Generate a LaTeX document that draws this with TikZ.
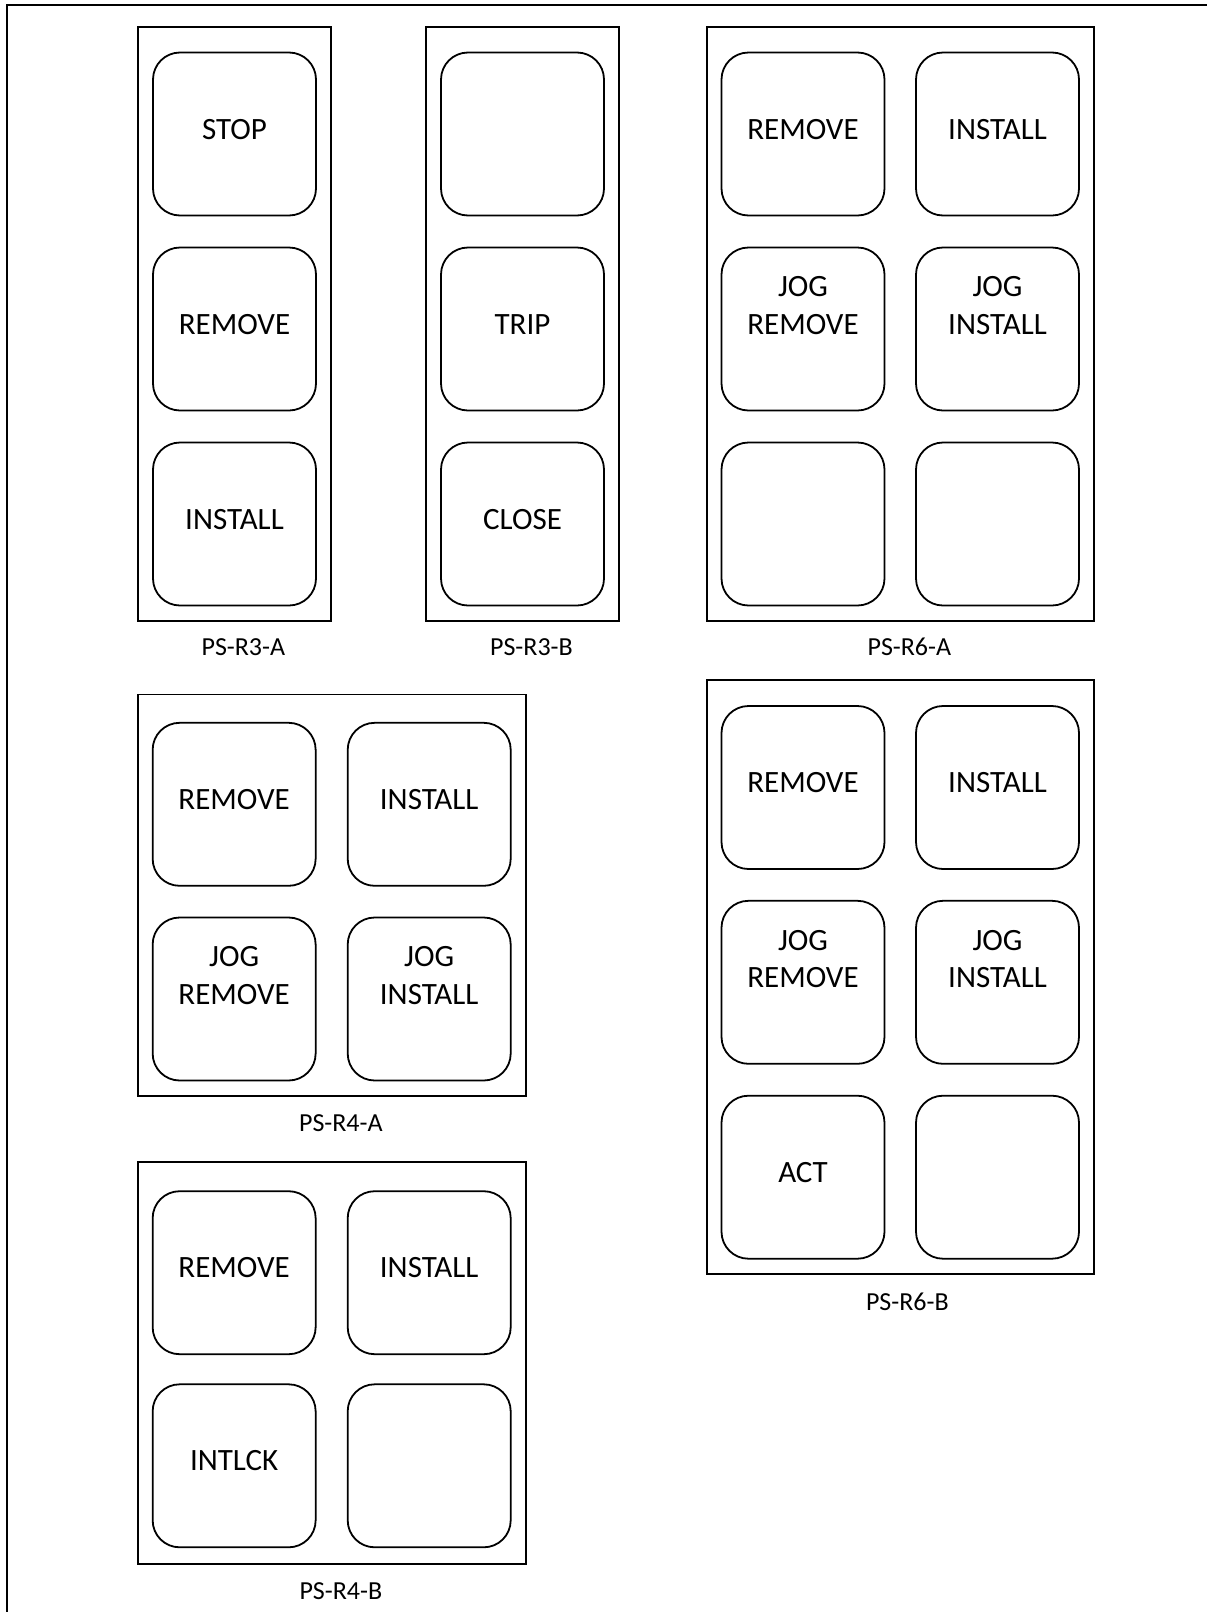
\documentclass[tikz,border=0pt]{standalone}
\usepackage{fontspec}
\setmainfont{Carlito}
\newcommand\pbtn[4]{\node[btn] (#1) at (#2,#3) {};
  \node[btntxt] (#1t) at ([yshift=-5pt]#1.center) {#4};}
\newcommand\pbtnii[5]{\node[btn] (#1) at (#2,#3) {};
  \node[btntxt] (#1ta) at ([yshift=32.2pt]#1.center) {#4};
  \node[btntxt] (#1tb) at ([yshift=-5pt]#1.center) {#5};}
\newcommand\pbtnempty[3]{\node[btn] (#1) at (#2,#3) {};}
\begin{document}
\begin{tikzpicture}[x=1pt,y=-1pt,
  panel/.style={draw, line width=1.8pt, inner sep=0pt, outer sep=0pt},
  btn/.style={draw, line width=1.8pt, rounded corners=27pt, minimum width=163pt, minimum height=163pt, inner sep=0pt, outer sep=0pt},
  btntxt/.style={font=\fontsize{31}{37.2}\selectfont, inner sep=0pt, anchor=base},
  lbl/.style={font=\fontsize{26}{31}\selectfont, inner sep=0pt, anchor=base}]
\useasboundingbox (0,0) rectangle (1207,1612);
\clip (0,0) rectangle (1207,1612);
% outer frame (open at right and bottom)
\draw[line width=1.8pt] (1230,5.3) -- (6.7,5.3) -- (6.7,1630);

% PS-R3-A
\node[panel, minimum width=192.7pt, minimum height=594pt] (r3a) at (234.35,323.7) {};
\pbtn{r3a1}{234.5}{134}{STOP}
\pbtn{r3a2}{234.5}{329}{REMOVE}
\pbtn{r3a3}{234.5}{524}{INSTALL}
\node[lbl] (r3al) at ([xshift=9pt,yshift=-35pt]r3a.south) {PS-R3-A};

% PS-R3-B
\node[panel, minimum width=193pt, minimum height=594pt] (r3b) at (522.5,323.7) {};
\pbtnempty{r3b1}{522.5}{134}
\pbtn{r3b2}{522.5}{329}{TRIP}
\pbtn{r3b3}{522.5}{524}{CLOSE}
\node[lbl] (r3bl) at ([xshift=9pt,yshift=-35pt]r3b.south) {PS-R3-B};

% PS-R6-A
\node[panel, minimum width=387.3pt, minimum height=594pt] (r6a) at (900.35,323.7) {};
\pbtn{r6a1}{803}{134}{REMOVE}
\pbtn{r6a2}{997.5}{134}{INSTALL}
\pbtnii{r6a3}{803}{329}{JOG}{REMOVE}
\pbtnii{r6a4}{997.5}{329}{JOG}{INSTALL}
\pbtnempty{r6a5}{803}{524}
\pbtnempty{r6a6}{997.5}{524}
\node[lbl] (r6al) at ([xshift=9pt,yshift=-35pt]r6a.south) {PS-R6-A};

% PS-R6-B
\node[panel, minimum width=387.3pt, minimum height=594pt] (r6b) at (900.35,977) {};
\pbtn{r6b1}{803}{787.5}{REMOVE}
\pbtn{r6b2}{997.5}{787.5}{INSTALL}
\pbtnii{r6b3}{803}{982.3}{JOG}{REMOVE}
\pbtnii{r6b4}{997.5}{982.3}{JOG}{INSTALL}
\pbtn{r6b5}{803}{1177.2}{ACT}
\pbtnempty{r6b6}{997.5}{1177.2}
\node[lbl] (r6bl) at ([xshift=7pt,yshift=-36pt]r6b.south) {PS-R6-B};

% PS-R4-A
\node[panel, minimum width=387.7pt, minimum height=401.5pt] (r4a) at (331.85,895.25) {};
\pbtn{r4a1}{234.15}{804.3}{REMOVE}
\pbtn{r4a2}{429.2}{804.3}{INSTALL}
\pbtnii{r4a3}{234.15}{999}{JOG}{REMOVE}
\pbtnii{r4a4}{429.2}{999}{JOG}{INSTALL}
\node[lbl] (r4al) at ([xshift=9pt,yshift=-35.7pt]r4a.south) {PS-R4-A};

% PS-R4-B
\node[panel, minimum width=387.7pt, minimum height=402pt] (r4b) at (331.85,1363.3) {};
\pbtn{r4b1}{234.15}{1272.7}{REMOVE}
\pbtn{r4b2}{429.2}{1272.7}{INSTALL}
\pbtn{r4b3}{234.15}{1465.8}{INTLCK}
\pbtnempty{r4b4}{429.2}{1465.8}
\node[lbl] (r4bl) at ([xshift=9pt,yshift=-34.7pt]r4b.south) {PS-R4-B};
\end{tikzpicture}
\end{document}
